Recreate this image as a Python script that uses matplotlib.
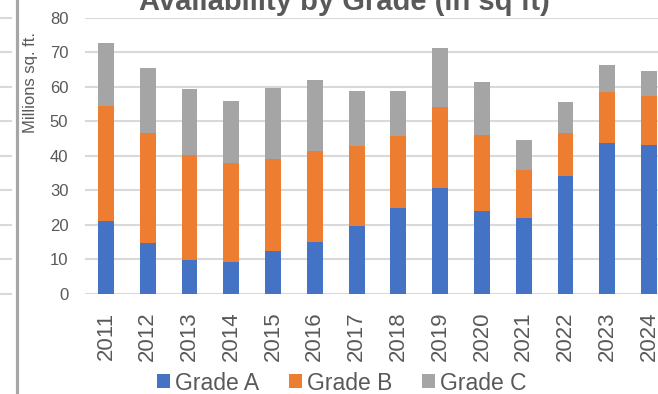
import matplotlib
matplotlib.use("Agg")
import matplotlib.pyplot as plt
from matplotlib.patches import Patch
from matplotlib.lines import Line2D
import numpy as np

plt.rcParams['font.family'] = ['Liberation Sans', 'DejaVu Sans']

years = ['2011', '2012', '2013', '2014', '2015', '2016', '2017',
         '2018', '2019', '2020', '2021', '2022', '2023', '2024']
# Cumulative stack tops read as totals; derive each segment below
grade_a = [21.2, 14.6, 9.9, 9.1, 12.5, 15.0, 19.7, 24.9, 30.5, 24.1, 21.9, 34.2, 43.8, 43.2]
a_plus_b = [54.4, 46.5, 40.2, 37.8, 39.1, 41.4, 42.8, 45.6, 54.0, 46.1, 35.9, 46.5, 58.6, 57.3]
totals = [72.6, 65.4, 59.3, 55.8, 59.6, 61.9, 58.8, 58.8, 71.2, 61.4, 44.6, 55.7, 66.3, 64.6]
series_names = ['Grade A', 'Grade B', 'Grade C']
colors = ['#4472C4', '#ED7D31', '#A5A5A5']
y_ticks = [0, 10, 20, 30, 40, 50, 60, 70, 80]

grade_b = [ab - a for ab, a in zip(a_plus_b, grade_a)]
grade_c = [t - ab for t, ab in zip(totals, a_plus_b)]

W, H = 658, 394
fig = plt.figure(figsize=(W / 100, H / 100), dpi=100)

# axes spans past the right edge of the canvas
left_px, right_px, top_px, bottom_px = 85, 670, 17.7, 293.7
ax = fig.add_axes([left_px / W, 1 - bottom_px / H,
                   (right_px - left_px) / W, (bottom_px - top_px) / H])

text_color = '#595959'
grid_color = '#D9D9D9'

x = np.arange(len(years))
bw = 0.38
ax.bar(x, grade_a, bw, color=colors[0], linewidth=0, zorder=3)
ax.bar(x, grade_b, bw, bottom=grade_a, color=colors[1], linewidth=0, zorder=3)
ax.bar(x, grade_c, bw, bottom=a_plus_b, color=colors[2], linewidth=0, zorder=3)

ax.set_xlim(-0.5, len(years) - 0.5)
ax.set_ylim(0, 80)
ax.set_yticks(y_ticks)
ax.set_yticklabels([str(v) for v in y_ticks], fontsize=12, color=text_color)
ax.set_xticks(x)
ax.set_xticklabels(years, rotation=90, fontsize=16, color=text_color)
ax.tick_params(axis='y', length=0, pad=12)
ax.tick_params(axis='x', length=0, pad=13)
for s in ax.spines.values():
    s.set_visible(False)
ax.yaxis.grid(True, color=grid_color, linewidth=1.5, zorder=0)
ax.set_axisbelow(True)
ax.set_clip_on(False)

fig.text(30 / W, 1 - 83 / H, 'Millions sq. ft.', rotation=90, fontsize=12,
         color=text_color, ha='center', va='center')

fig.text(344 / W, 1 - 10 / H, 'Availability by Grade (in sq ft)', fontsize=21,
         fontweight='bold', color=text_color, ha='center', va='baseline')

handles = [Patch(facecolor=c, edgecolor='none') for c in colors]
fig.legend(handles, series_names, loc='center', bbox_to_anchor=(342 / W, 1 - 383 / H),
           ncol=3, frameon=False, fontsize=16.5, handlelength=0.55, handleheight=0.55,
           handletextpad=0.23, columnspacing=1.3, borderaxespad=0, borderpad=0,
           labelcolor=text_color)

# neighbouring panel edge on the left
edge_color = '#BFBFBF'
for v in y_ticks:
    yy = 1 - (bottom_px - v * (bottom_px - top_px) / 80) / H
    fig.add_artist(Line2D([0, 10.5 / W], [yy, yy], color=grid_color, linewidth=1.5))
fig.add_artist(Line2D([16.5 / W, 16.5 / W], [0, 1], color='#A6A6A6', linewidth=2.3))

fig.savefig('out.png', dpi=100)
